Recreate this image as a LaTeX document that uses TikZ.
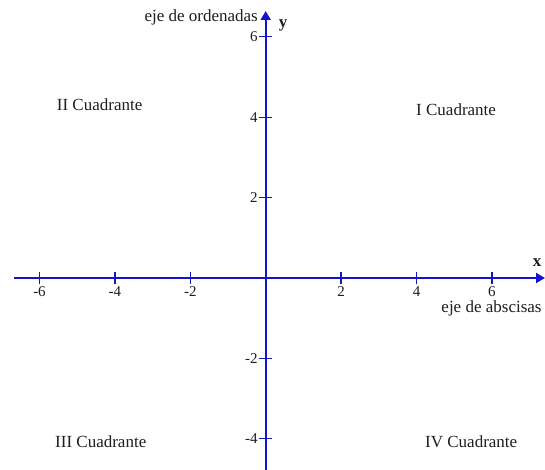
\documentclass[tikz,border=0pt]{standalone}
\usepackage{fontspec}
\setmainfont{Liberation Serif}
\usetikzlibrary{arrows.meta}
\definecolor{axisblue}{RGB}{20,20,205}
\definecolor{txt}{RGB}{30,30,30}
\begin{document}
\begin{tikzpicture}[x=1pt,y=-1pt,
  axis/.style={draw=axisblue, line width=2pt, -{Triangle[length=9pt,width=10pt]}},
  tick/.style={draw=axisblue, line width=1.3pt},
  lbl/.style={font=\fontsize{17}{20}\selectfont, text=txt, inner sep=0pt},
  num/.style={font=\fontsize{15}{18}\selectfont, text=txt, inner sep=0pt}]
\useasboundingbox (0,0) rectangle (545,470);
\fill[white] (0,0) rectangle (545,470);
\coordinate (O) at (265.7,278);
\coordinate (xL) at (14,278);
\coordinate (xR) at (545,278);
\coordinate (yB) at (265.7,470);
\coordinate (yT) at (265.7,11);
\draw[axis] (xL) -- (xR);
\draw[axis] (yB) -- (yT);
% x ticks
\foreach \i/\n in {-6/a,-4/b,-2/c,2/d,4/e,6/f}{
  \coordinate (xt\n) at ({265.7+37.7*\i},278);
  \draw[tick] ([yshift=6pt]xt\n) -- ([yshift=-6pt]xt\n);
  \node[num] (xn\n) at ({265.7+37.7*\i},291.7) {\i};
}
% y ticks
\foreach \j/\n in {-4/a,-2/b,2/c,4/d,6/e}{
  \coordinate (yt\n) at (265.7,{278-40.2*\j});
  \draw[tick] ([xshift=-6.5pt]yt\n) -- ([xshift=6.5pt]yt\n);
  \node[num, anchor=east] (yn\n) at (257.8,{278-40.2*\j}) {\j};
}
\node[lbl, anchor=base east] (ord) at (258,22) {eje de ordenadas};
\node[lbl, anchor=base] (ylab) at (283,28) {\bfseries y};
\node[lbl, anchor=base] (xlab) at (537,266) {\bfseries x};
\node[lbl, anchor=base] (absc) at (491.5,312) {eje de abscisas};
\node[lbl, anchor=base west] (q2) at (56.7,111) {II Cuadrante};
\node[lbl, anchor=base west] (q1) at (416,115.7) {I Cuadrante};
\node[lbl, anchor=base west] (q3) at (55,447) {III Cuadrante};
\node[lbl, anchor=base west] (q4) at (425,447) {IV Cuadrante};
\end{tikzpicture}
\end{document}
